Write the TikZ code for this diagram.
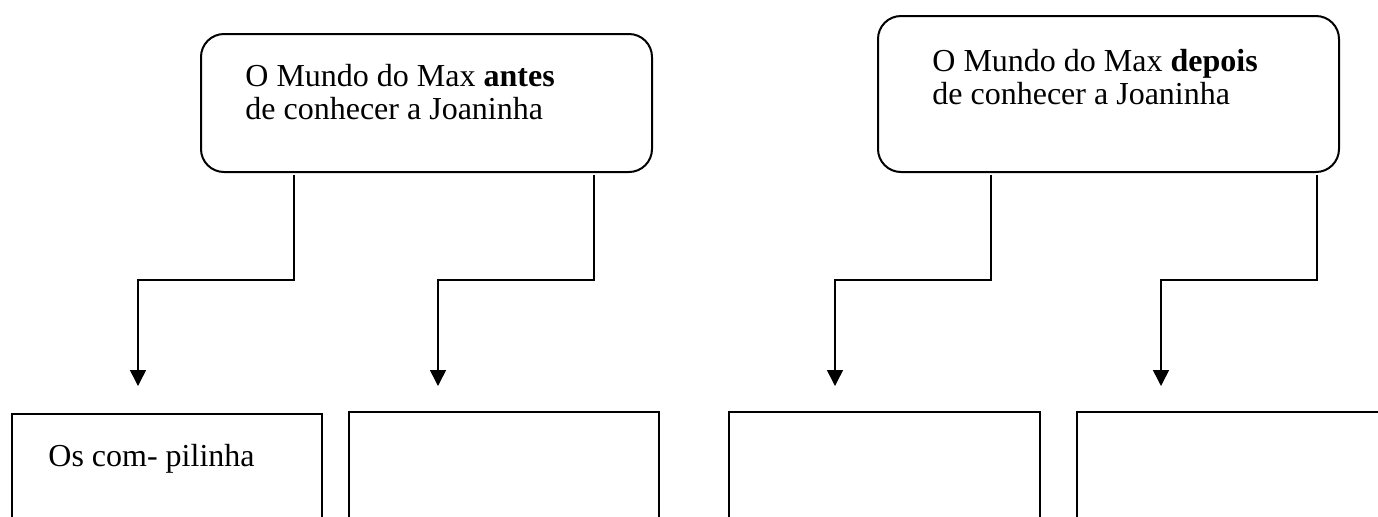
\documentclass[tikz,border=0pt]{standalone}
\usepackage{fontspec}
\setmainfont{Liberation Serif}
\usetikzlibrary{arrows.meta,fit,calc}
\begin{document}
\begin{tikzpicture}[x=0.5pt,y=-0.5pt,
  topbox/.style={draw, line width=1pt, rounded corners=11.5pt, inner sep=0pt},
  botbox/.style={draw, line width=1pt, inner sep=0pt},
  txt/.style={anchor=base west, inner sep=0pt, font=\fontsize{16}{18.4}\selectfont},
  conn/.style={line width=0.75pt, -{Triangle[width=8pt,length=8pt]}}]
\clip (0,0) rectangle (1378,516);
\fill[white] (0,0) rectangle (1378,516);
% top boxes
\node[topbox, fit={(201,34) (652,172)}] (A) {};
\node[topbox, fit={(878,16) (1339,172)}] (B) {};
\node[txt] (A1) at (245,86) {O Mundo do Max \textbf{antes}};
\node[txt] (A2) at (245,119) {de conhecer a Joaninha};
\node[txt] (B1) at (932,71) {O Mundo do Max \textbf{depois}};
\node[txt] (B2) at (932,104) {de conhecer a Joaninha};
% bottom boxes
\node[botbox, fit={(12,414) (322,600)}] (C1) {};
\node[botbox, fit={(349,412) (659,600)}] (C2) {};
\node[botbox, fit={(729,412) (1040,600)}] (C3) {};
\node[botbox, fit={(1077,412) (1400,600)}] (C4) {};
\node[txt] (C1t) at (48,466) {Os com- pilinha};
% coordinates
\coordinate (x1) at (294,0);
\coordinate (x2) at (594,0);
\coordinate (x3) at (991,0);
\coordinate (x4) at (1317,0);
\coordinate (bend) at (0,280);
\coordinate (t1) at (138,386);
\coordinate (t2) at (438,386);
\coordinate (t3) at (835,386);
\coordinate (t4) at (1161,386);
% connectors
\draw[conn] ([yshift=-1pt]A.south -| x1) -- (x1 |- bend) -| (t1);
\draw[conn] ([yshift=-1pt]A.south -| x2) -- (x2 |- bend) -| (t2);
\draw[conn] ([yshift=-1pt]B.south -| x3) -- (x3 |- bend) -| (t3);
\draw[conn] ([yshift=-1pt]B.south -| x4) -- (x4 |- bend) -| (t4);
\end{tikzpicture}
\end{document}
